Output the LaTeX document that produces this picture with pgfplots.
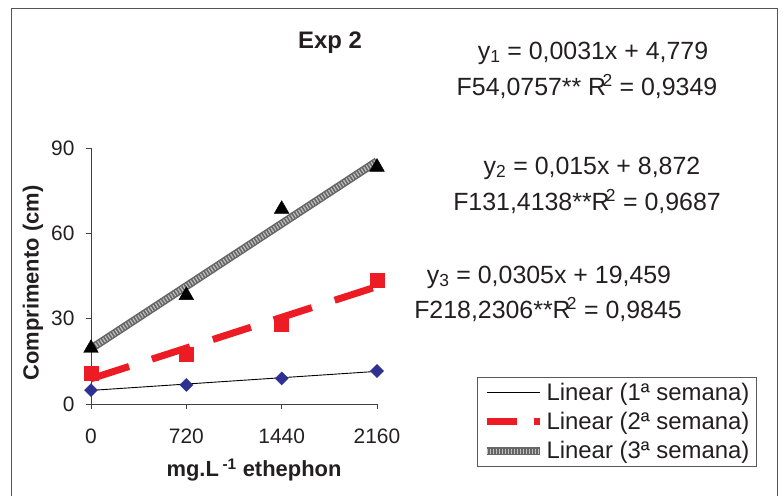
\documentclass[border=0pt]{standalone}
\usepackage{fontspec}
\setmainfont{Liberation Sans}
\usepackage{pgfplots}
\pgfplotsset{compat=1.18}
\definecolor{txt}{HTML}{231F20}
\definecolor{navy}{HTML}{2E3192}
\definecolor{exred}{HTML}{ED1C24}
\definecolor{frm}{HTML}{555555}
\begin{document}
\begin{tikzpicture}[x=1bp,y=1bp]
\path (-91,-92) rectangle (692,404);
\draw[frm, line width=1.5bp] (-79.5,-92) -- (-79.5,395.5) -- (686.5,395.5) -- (686.5,-92);
\begin{axis}[
  at={(0,0)}, anchor=origin,
  scale only axis, width=286bp, height=256bp,
  xmin=0, xmax=2160, ymin=0, ymax=90,
  xtick={0,720,1440,2160}, ytick={0,30,60,90},
  axis lines*=left,
  axis line style={black!75, line width=0.8bp},
  tick style={black!75, line width=0.8bp},
  tick align=outside, major tick length=5bp,
  clip=false,
  /pgf/number format/assume math mode=true,
  /pgf/number format/set thousands separator={},
  ticklabel style={font=\fontsize{21}{25}\selectfont, text=txt},
  xticklabel style={yshift=-16bp},
  yticklabel style={xshift=-8bp},
  legend style={at={(1.3497,0.1055)}, anchor=north west,
    draw=black!65, line width=1bp, fill=white,
    font=\fontsize{24}{28}\selectfont, text=txt,
    inner xsep=5bp, inner ysep=0.5bp,
    nodes={inner xsep=2bp, inner ysep=5.2bp}, column sep=1bp},
  legend cell align=left,
  legend image code/.code={\draw[#1] (0bp,0bp) -- (53bp,0bp);},
]
% observed values
\addplot[forget plot, only marks, mark=square*, mark size=4.6bp,
  mark options={rotate=45, fill=navy, draw=navy}]
  coordinates {(0,4.9) (720,6.7) (1440,9.0) (2160,11.6)};
\addplot[forget plot, only marks, mark=square*, mark size=7bp,
  mark options={fill=exred, draw=exred}]
  coordinates {(0,11.0) (720,17.6) (1440,27.9) (2160,43.5)};
\addplot[forget plot, only marks, mark=triangle*, mark size=8.5bp,
  mark options={fill=black, draw=black}]
  coordinates {(0,19.6) (720,38.2) (1440,68.5) (2160,83.3)};
% linear trend lines
\addplot[black, line width=0.9bp] coordinates {(0,4.779) (2160,11.475)};
\addlegendentry{Linear (1ª semana)}
\addplot[exred, line width=7bp, dash pattern=on 40bp off 24bp,
  legend image code/.code={\draw[exred, line width=7bp, dash pattern=on 30bp off 17bp] (0bp,0bp) -- (53bp,0bp);}]
  coordinates {(0,8.872) (2160,41.272)};
\addlegendentry{Linear (2ª semana)}
\addplot[black!60, line width=8bp,
  postaction={draw=black!25, line width=5bp, dash pattern=on 1.2bp off 1.8bp}]
  coordinates {(0,19.459) (2160,85.339)};
\addlegendentry{Linear (3ª semana)}
\end{axis}
\node[font=\bfseries\fontsize{24}{28}\selectfont, text=txt] at (239,361) {Exp 2};
\begin{scope}[every node/.style={font=\fontsize{25}{30}\selectfont, text=txt}]
\node at (502,351) {y\textsubscript{1} = 0,0031x + 4,779};
\node at (496,317) {F54,0757** R\kern-0.15em\textsuperscript{2} = 0,9349};
\node at (501,236) {y\textsubscript{2} = 0,015x + 8,872};
\node at (496,202) {F131,4138**R\kern-0.15em\textsuperscript{2} = 0,9687};
\node at (458,127) {y\textsubscript{3} = 0,0305x + 19,459};
\node at (457,94) {F218,2306**R\kern-0.15em\textsuperscript{2} = 0,9845};
\end{scope}
\node[font=\bfseries\fontsize{22}{26}\selectfont, text=txt] at (163,-66) {mg.L\,\textsuperscript{-1} ethephon};
\node[font=\bfseries\fontsize{22}{26}\selectfont, text=txt, rotate=90] at (-58,121) {Comprimento (cm)};
\end{tikzpicture}
\end{document}
